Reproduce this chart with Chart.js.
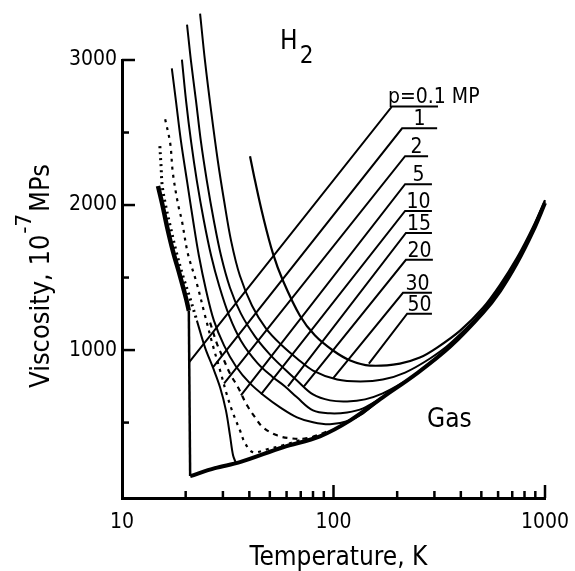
<!DOCTYPE html>
<html>
<head>
<meta charset="utf-8">
<script src="https://cdn.jsdelivr.net/npm/chart.js@4.4.1/dist/chart.umd.min.js"></script>
<style>
  html, body { margin: 0; padding: 0; background: #fff; }
  canvas { display: block; }
</style>
</head>
<body>
<canvas id="viscosityChart" width="575" height="571"></canvas>
<script>
// H2 viscosity isobars: T in K, viscosity in 1e-7 MPs

// p = 0.1 MPa: liquid branch (thick), the drop at boiling, then the gas curve
const p01LiquidT = [14.8, 15.5, 16.3, 17.4, 18.8, 20.1, 20.7];
const p01LiquidV = [2131, 2007, 1856, 1684, 1512, 1354, 1271];
const p01DropT = [20.7, 21.0];
const p01DropV = [1271, 131];
const gasT = [21.0, 27.5, 36.1, 57.7, 86.3, 120, 171, 248, 356, 509, 613, 737, 878, 1000];
const gasV = [131, 186, 227, 330, 405, 515, 674, 839, 1024, 1258, 1409, 1601, 1821, 2014];

// p = 1 MPa: dotted liquid part, then the solid saturated part
const p1DotT = [15.1, 15.3, 15.5, 16.1, 16.9, 18.0, 19.4, 21.0, 22.6];
const p1DotV = [2406, 2268, 2131, 1993, 1856, 1684, 1512, 1354, 1203];
const p1T = [22.6, 24.7, 26.9, 29.1, 31.0, 32.4, 33.5, 34.6];
const p1V = [1203, 1017, 880, 742, 584, 412, 275, 220];

// p = 2 and 5 MPa (dashed)
const p2T = [16.0, 16.9, 17.4, 18.4, 19.2, 20.5, 22.6, 24.7, 26.9, 29.1, 31.4, 33.5, 36.1, 38.2, 41.6, 48.5, 57.7, 69.4, 86.3];
const p2V = [2591, 2426, 2220, 2007, 1890, 1663, 1457, 1237, 1031, 859, 687, 564, 447, 357, 296, 316, 344, 378, 412];
const p5T = [26.1, 28.1, 30.0, 32.4, 35.4, 39.0, 42.6, 46.4, 54.1, 62.3, 75.0, 96.3];
const p5V = [1189, 1045, 948, 838, 742, 619, 536, 467, 412, 392, 392, 445];

// p = 10 ... 50 MPa (solid)
const p10T = [17.2, 18.0, 19.0, 20.3, 21.7, 23.1, 25.0, 27.2, 30.4, 34.6, 40.3, 47.5, 55.9, 67.2, 80.0, 96.3, 116, 138, 171];
const p10V = [2942, 2715, 2440, 2165, 1890, 1650, 1409, 1203, 1031, 887, 770, 680, 605, 536, 502, 488, 509, 564, 675];
const p15T = [19.2, 20.1, 21.2, 22.6, 24.4, 26.4, 28.8, 32.1, 36.5, 43.5, 51.2, 59.0, 67.2, 80.0, 96.3, 116, 138, 171];
const p15V = [3003, 2715, 2440, 2165, 1890, 1650, 1443, 1237, 1065, 914, 818, 749, 674, 584, 564, 570, 598, 675];
const p20T = [20.3, 21.2, 22.4, 23.6, 25.2, 27.2, 29.4, 32.4, 36.5, 42.6, 50.1, 59.0, 67.2, 80.0, 96.3, 116, 141, 171, 218];
const p20V = [3244, 2990, 2715, 2440, 2165, 1890, 1650, 1430, 1251, 1093, 969, 866, 790, 694, 653, 646, 660, 701, 784];
const p30T = [23.4, 24.7, 26.4, 28.4, 30.4, 32.8, 36.1, 41.2, 48.0, 57.1, 67.2, 80.0, 104, 134, 171, 218, 286, 356, 509, 737, 1000];
const p30V = [3320, 2990, 2646, 2302, 2028, 1753, 1512, 1306, 1148, 1031, 942, 859, 797, 784, 797, 845, 942, 1045, 1275, 1618, 2024];
const p50T = [40.3, 42.6, 46.4, 51.8, 57.7, 69.4, 81.8, 99.5, 120, 149, 206, 256, 309, 397, 509, 613, 737, 878, 1000];
const p50V = [2337, 2165, 1924, 1663, 1478, 1237, 1100, 997, 928, 893, 907, 948, 1017, 1134, 1292, 1450, 1636, 1849, 2034];

// pressure labels with their underline and leader line
const pressureLabels = ["p=0.1 MP", "1", "2", "5", "10", "15", "20", "30", "50"];
const leaderEndT = [20.7, 26.9, 30.4, 36.5, 45.4, 60.9, 72.5, 99.5, 147];
const leaderEndV = [914, 880, 770, 687, 694, 749, 749, 804, 907];
const underlineLeftT = [189, 211, 218, 218, 218, 220, 220, 213, 223];
const underlineRightT = [312, 309, 280, 292, 292, 292, 295, 292, 292];
const underlineV = [2680, 2529, 2337, 2144, 1959, 1808, 1622, 1395, 1251];

// axis ticks
const xTickLabels = [10, 100, 1000];
const xMajorTicks = [100, 1000];
const xMinorTicks = [20, 30, 40, 50, 60, 70, 80, 90, 200, 300, 400, 500, 600, 700, 800, 900];
const yTicks = [1000, 2000, 3000];
const yMinorTicks = [500, 1500, 2500];

const FONT_FAMILY = "'DejaVu Sans Condensed', 'DejaVu Sans', sans-serif";
const INK = "#000";

function toPoints(ts, vs) {
  return ts.map((t, i) => ({ x: t, y: vs[i] }));
}

function curve(ts, vs, width, dash, tension = 0.35) {
  return {
    data: toPoints(ts, vs),
    borderColor: INK,
    borderWidth: width,
    borderDash: dash || [],
    pointRadius: 0,
    fill: false,
    clip: false,
    tension,
  };
}

function leaderDatasets() {
  return pressureLabels.map((label, i) => ({
    data: [
      { x: leaderEndT[i], y: leaderEndV[i] },
      { x: underlineLeftT[i], y: underlineV[i] },
      { x: underlineRightT[i], y: underlineV[i] },
    ],
    borderColor: INK,
    borderWidth: 2,
    pointRadius: 0,
    fill: false,
    clip: false,
    tension: 0,
  }));
}

const decorations = {
  id: "decorations",
  afterDatasetsDraw(chart) {
    const { ctx, chartArea, scales } = chart;
    const xs = scales.x;
    const ys = scales.y;
    ctx.save();
    ctx.strokeStyle = INK;
    ctx.fillStyle = INK;
    ctx.lineWidth = 2.5;

    // tick marks point into the plot
    const tick = (px, py, dx, dy) => {
      ctx.beginPath();
      ctx.moveTo(px, py);
      ctx.lineTo(px + dx, py + dy);
      ctx.stroke();
    };
    xMinorTicks.forEach((v) => tick(xs.getPixelForValue(v), chartArea.bottom, 0, -7));
    xMajorTicks.forEach((v) => tick(xs.getPixelForValue(v), chartArea.bottom, 0, -13));
    yMinorTicks.forEach((v) => tick(chartArea.left, ys.getPixelForValue(v), 7, 0));
    yTicks.forEach((v) => tick(chartArea.left, ys.getPixelForValue(v), 13, 0));

    // pressure labels sit on their underlines
    ctx.font = `21px ${FONT_FAMILY}`;
    ctx.textBaseline = "alphabetic";
    pressureLabels.forEach((label, i) => {
      const left = xs.getPixelForValue(underlineLeftT[i]);
      const right = xs.getPixelForValue(underlineRightT[i]);
      const base = ys.getPixelForValue(underlineV[i]) - 3;
      if (i === 0) {
        ctx.textAlign = "left";
        ctx.fillText(label, left - 4, base);
      } else {
        ctx.textAlign = "center";
        ctx.fillText(label, (left + right) / 2, base);
      }
    });

    // "Gas" region note and H2 title
    ctx.textAlign = "left";
    ctx.font = `26px ${FONT_FAMILY}`;
    ctx.fillText("Gas", xs.getPixelForValue(277), ys.getPixelForValue(467));
    const hx = xs.getPixelForValue(55.9);
    const hy = ys.getPixelForValue(3079);
    ctx.fillText("H", hx, hy);
    const hw = ctx.measureText("H").width;
    ctx.font = `24px ${FONT_FAMILY}`;
    ctx.fillText("2", hx + hw + 2, hy + 14);

    // axis titles
    ctx.font = `26px ${FONT_FAMILY}`;
    ctx.textAlign = "center";
    ctx.fillText("Temperature, K", (chartArea.left + chartArea.right) / 2 + 5, chartArea.bottom + 67);

    const mainText = "Viscosity, 10";
    const supText = "-7";
    const unitText = "MPs";
    ctx.font = `27px ${FONT_FAMILY}`;
    const w1 = ctx.measureText(mainText).width;
    const w3 = ctx.measureText(unitText).width;
    ctx.font = `22px ${FONT_FAMILY}`;
    const w2 = ctx.measureText(supText).width;
    const total = w1 + w2 + w3 + 3;
    ctx.translate(chartArea.left - 73, (chartArea.top + chartArea.bottom) / 2 + total / 2 - 3);
    ctx.rotate(-Math.PI / 2);
    ctx.textAlign = "left";
    ctx.font = `27px ${FONT_FAMILY}`;
    ctx.fillText(mainText, 0, 0);
    ctx.font = `22px ${FONT_FAMILY}`;
    ctx.fillText(supText, w1 + 1, -18);
    ctx.font = `27px ${FONT_FAMILY}`;
    ctx.fillText(unitText, w1 + w2 + 3, 0);
    ctx.restore();
  },
};

const datasets = [
  ...leaderDatasets(),
  curve(p01LiquidT, p01LiquidV, 4.5),
  curve(p01DropT, p01DropV, 2.5, [], 0),
  curve(gasT, gasV, 4),
  curve(p1DotT, p1DotV, 3, [2, 4]),
  curve(p1T, p1V, 2),
  curve(p2T, p2V, 2.2, [3, 5]),
  curve(p5T, p5V, 2.2, [5, 5]),
  curve(p10T, p10V, 2),
  curve(p15T, p15V, 2),
  curve(p20T, p20V, 2),
  curve(p30T, p30V, 2),
  curve(p50T, p50V, 2.2),
];

new Chart(document.getElementById("viscosityChart"), {
  type: "line",
  data: { datasets },
  options: {
    responsive: false,
    animation: false,
    devicePixelRatio: 1,
    layout: { padding: { left: 0, right: 30, top: 60, bottom: 0 } },
    plugins: { legend: { display: false }, tooltip: { enabled: false } },
    scales: {
      x: {
        type: "logarithmic",
        min: 10,
        max: 1000,
        afterBuildTicks: (scale) => {
          scale.ticks = xTickLabels.map((v) => ({ value: v }));
        },
        afterFit: (scale) => {
          scale.height = 73;
          scale.paddingLeft = 0;
          scale.paddingRight = 0;
        },
        grid: { display: false, drawTicks: false },
        border: { display: true, color: INK, width: 3 },
        ticks: {
          color: INK,
          font: { family: FONT_FAMILY, size: 21 },
          padding: 12,
          maxRotation: 0,
          autoSkip: false,
          callback: (value) => String(value),
        },
      },
      y: {
        type: "linear",
        min: -20,
        max: 3000,
        afterBuildTicks: (scale) => {
          scale.ticks = yTicks.map((v) => ({ value: v }));
        },
        afterFit: (scale) => {
          scale.width = 122;
          scale.paddingTop = 0;
          scale.paddingBottom = 0;
        },
        grid: { display: false, drawTicks: false },
        border: { display: true, color: INK, width: 3 },
        ticks: {
          color: INK,
          font: { family: FONT_FAMILY, size: 21 },
          padding: 5,
          callback: (value) => String(value),
        },
      },
    },
  },
  plugins: [decorations],
});
</script>
</body>
</html>
